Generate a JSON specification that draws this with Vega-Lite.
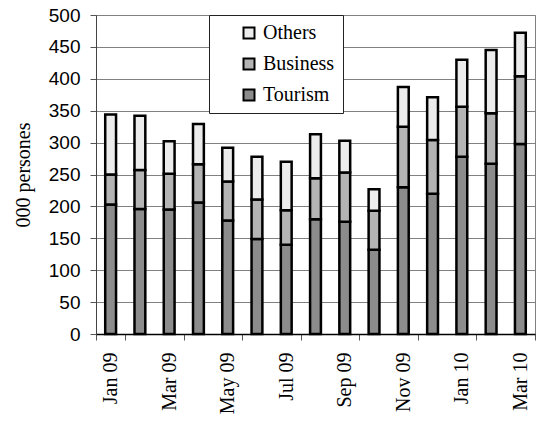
{
  "$schema": "https://vega.github.io/schema/vega-lite/v6.json",
  "autosize": "none",
  "width": 439,
  "height": 319,
  "padding": {"left": 96, "top": 15, "right": 4, "bottom": 89},
  "background": "white",
  "config": {
    "view": {"stroke": "#808080", "strokeWidth": 1},
    "axis": {"labelColor": "black", "titleColor": "black"}
  },
  "data": {
    "values": [
      {"month": "Jan 09", "type": "Tourism", "value": 203},
      {"month": "Jan 09", "type": "Business", "value": 47},
      {"month": "Jan 09", "type": "Others", "value": 94},
      {"month": "Feb 09", "type": "Tourism", "value": 196},
      {"month": "Feb 09", "type": "Business", "value": 61},
      {"month": "Feb 09", "type": "Others", "value": 85},
      {"month": "Mar 09", "type": "Tourism", "value": 195},
      {"month": "Mar 09", "type": "Business", "value": 56},
      {"month": "Mar 09", "type": "Others", "value": 51},
      {"month": "Apr 09", "type": "Tourism", "value": 206},
      {"month": "Apr 09", "type": "Business", "value": 60},
      {"month": "Apr 09", "type": "Others", "value": 63},
      {"month": "May 09", "type": "Tourism", "value": 178},
      {"month": "May 09", "type": "Business", "value": 61},
      {"month": "May 09", "type": "Others", "value": 53},
      {"month": "Jun 09", "type": "Tourism", "value": 149},
      {"month": "Jun 09", "type": "Business", "value": 62},
      {"month": "Jun 09", "type": "Others", "value": 67},
      {"month": "Jul 09", "type": "Tourism", "value": 140},
      {"month": "Jul 09", "type": "Business", "value": 54},
      {"month": "Jul 09", "type": "Others", "value": 76},
      {"month": "Aug 09", "type": "Tourism", "value": 180},
      {"month": "Aug 09", "type": "Business", "value": 64},
      {"month": "Aug 09", "type": "Others", "value": 69},
      {"month": "Sep 09", "type": "Tourism", "value": 176},
      {"month": "Sep 09", "type": "Business", "value": 77},
      {"month": "Sep 09", "type": "Others", "value": 50},
      {"month": "Oct 09", "type": "Tourism", "value": 132},
      {"month": "Oct 09", "type": "Business", "value": 61},
      {"month": "Oct 09", "type": "Others", "value": 34},
      {"month": "Nov 09", "type": "Tourism", "value": 230},
      {"month": "Nov 09", "type": "Business", "value": 95},
      {"month": "Nov 09", "type": "Others", "value": 62},
      {"month": "Dec 09", "type": "Tourism", "value": 220},
      {"month": "Dec 09", "type": "Business", "value": 84},
      {"month": "Dec 09", "type": "Others", "value": 67},
      {"month": "Jan 10", "type": "Tourism", "value": 278},
      {"month": "Jan 10", "type": "Business", "value": 78},
      {"month": "Jan 10", "type": "Others", "value": 74},
      {"month": "Feb 10", "type": "Tourism", "value": 267},
      {"month": "Feb 10", "type": "Business", "value": 79},
      {"month": "Feb 10", "type": "Others", "value": 99},
      {"month": "Mar 10", "type": "Tourism", "value": 298},
      {"month": "Mar 10", "type": "Business", "value": 106},
      {"month": "Mar 10", "type": "Others", "value": 68}
    ]
  },
  "transform": [
    {"calculate": "indexof(['Tourism','Business','Others'], datum.type)", "as": "stackOrder"}
  ],
  "mark": {"type": "bar", "width": {"band": 0.37}, "stroke": "black", "strokeWidth": 2.5},
  "encoding": {
    "x": {
      "field": "month",
      "type": "ordinal",
      "sort": null,
      "scale": {"paddingInner": 0, "paddingOuter": 0},
      "axis": {
        "title": null,
        "values": ["Jan 09", "Mar 09", "May 09", "Jul 09", "Sep 09", "Nov 09", "Jan 10", "Mar 10"],
        "tickBand": "extent",
        "labelAngle": -90,
        "labelAlign": "right",
        "labelBaseline": "middle",
        "labelFont": "Liberation Serif",
        "labelFontSize": 20,
        "labelPadding": 12,
        "tickSize": 6,
        "tickColor": "#555",
        "domainColor": "black",
        "domainWidth": 1.5,
        "grid": false
      }
    },
    "y": {
      "field": "value",
      "type": "quantitative",
      "stack": "zero",
      "scale": {"domain": [0, 500], "nice": false},
      "axis": {
        "title": "000 persones",
        "titleFont": "Liberation Serif",
        "titleFontSize": 20,
        "titleFontWeight": "normal",
        "titlePadding": 15,
        "values": [0, 50, 100, 150, 200, 250, 300, 350, 400, 450, 500],
        "labelFont": "Liberation Sans",
        "labelFontSize": 19,
        "labelPadding": 10,
        "tickSize": 6,
        "tickColor": "#555",
        "domainColor": "#444",
        "grid": true,
        "gridColor": "#808080",
        "gridWidth": 1
      }
    },
    "color": {
      "field": "type",
      "type": "nominal",
      "scale": {"domain": ["Others", "Business", "Tourism"], "range": ["#ececec", "#b4b4b4", "#8c8c8c"]},
      "legend": {
        "title": "\u2003",
        "titleOrient": "right",
        "titleFontSize": 10,
        "titlePadding": 0,
        "orient": "none",
        "legendX": 113,
        "legendY": 0,
        "padding": 8,
        "fillColor": "white",
        "strokeColor": "#222",
        "symbolType": "square",
        "symbolSize": 121,
        "symbolStrokeColor": "black",
        "symbolStrokeWidth": 2,
        "symbolOffset": 22,
        "labelOffset": 4,
        "labelFont": "Liberation Serif",
        "labelFontSize": 20,
        "labelColor": "black",
        "rowPadding": 11
      }
    },
    "order": {"field": "stackOrder", "type": "quantitative"}
  }
}
